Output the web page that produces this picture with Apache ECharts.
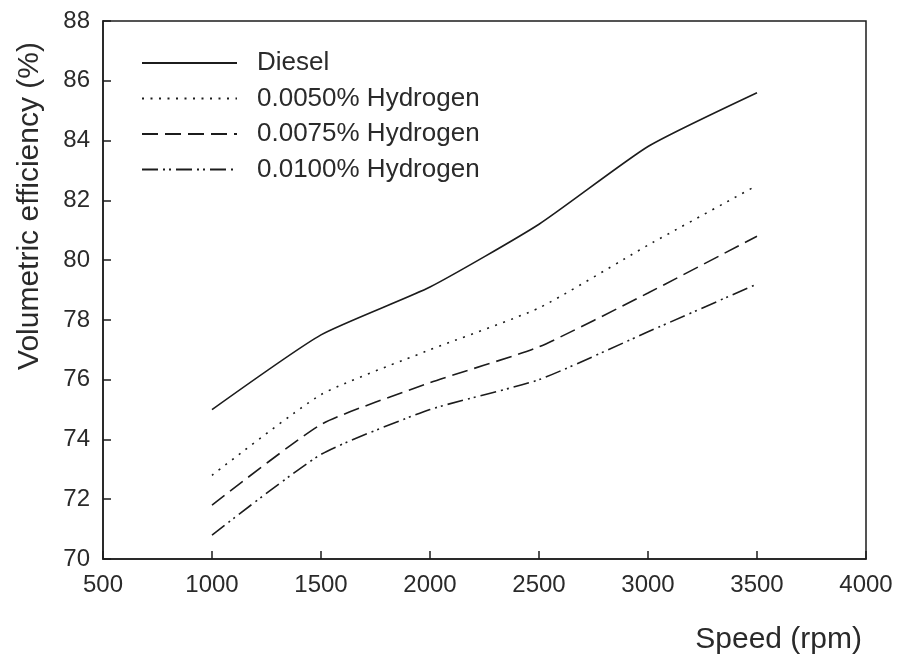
<!DOCTYPE html>
<html>
<head>
<meta charset="utf-8">
<title>Volumetric efficiency vs speed</title>
<script src="https://cdn.jsdelivr.net/npm/echarts@6/dist/echarts.min.js"></script>
<style>
  html, body { margin: 0; padding: 0; background: #fff; }
  #chart { width: 898px; height: 659px; }
</style>
</head>
<body>
<div id="chart"></div>
<script>
// Engine speed (rpm)
const speeds = [1000, 1500, 2000, 2500, 3000, 3500];

// Volumetric efficiency (%) per fuel blend
const diesel   = [75.0, 77.5, 79.1, 81.2, 83.8, 85.6];
const h2_0050  = [72.8, 75.5, 77.0, 78.4, 80.5, 82.5];
const h2_0075  = [71.8, 74.5, 75.9, 77.1, 78.9, 80.8];
const h2_0100  = [70.8, 73.5, 75.0, 76.0, 77.6, 79.2];

const seriesNames = ['Diesel', '0.0050% Hydrogen', '0.0075% Hydrogen', '0.0100% Hydrogen'];
const xTicks = { min: 500, max: 4000, step: 500 };
const yTicks = { min: 70, max: 88, step: 2 };

const FONT = '"Liberation Sans", Arial, sans-serif';
const INK = '#1c1c1c';
const TEXT = '#2a2a2a';

const dashPatterns = ['solid', [2, 6.5], [16, 7], [16, 5, 2, 4, 2, 5]];
const values = [diesel, h2_0050, h2_0075, h2_0100];

const chart = echarts.init(document.getElementById('chart'), null, { renderer: 'canvas' });

chart.setOption({
  backgroundColor: '#fff',
  animation: false,
  grid: {
    left: 103, right: 32, top: 21, bottom: 100,
    show: true, borderColor: INK, borderWidth: 1.5, backgroundColor: 'transparent'
  },
  legend: {
    orient: 'vertical',
    left: 141, top: 50, padding: 0,
    itemWidth: 95, itemHeight: 14, itemGap: 9.5,
    data: seriesNames,
    itemStyle: { opacity: 0 },
    textStyle: {
      fontFamily: FONT, fontSize: 26, color: TEXT,
      lineHeight: 25, padding: [0, 0, 0, 15]
    }
  },
  xAxis: {
    type: 'value',
    min: xTicks.min, max: xTicks.max, interval: xTicks.step,
    axisLine: { show: true, lineStyle: { color: INK, width: 1.5 } },
    axisTick: { show: true, inside: true, length: 8, lineStyle: { color: INK, width: 1.5 } },
    splitLine: { show: false },
    axisLabel: {
      fontFamily: FONT, fontSize: 24, color: TEXT, margin: 14,
      formatter: v => String(v)
    }
  },
  yAxis: {
    type: 'value',
    min: yTicks.min, max: yTicks.max, interval: yTicks.step,
    axisLine: { show: true, lineStyle: { color: INK, width: 1.5 } },
    axisTick: { show: true, inside: true, length: 8, lineStyle: { color: INK, width: 1.5 } },
    splitLine: { show: false },
    axisLabel: {
      fontFamily: FONT, fontSize: 24, color: TEXT, margin: 13,
      formatter: v => String(v)
    }
  },
  graphic: [
    {
      type: 'text',
      x: 30, y: 206,
      rotation: Math.PI / 2,
      style: {
        text: 'Volumetric efficiency (%)',
        font: '30px ' + FONT,
        fill: TEXT,
        textAlign: 'center',
        textVerticalAlign: 'middle'
      }
    },
    {
      type: 'text',
      x: 862, y: 640,
      style: {
        text: 'Speed (rpm)',
        font: '30px ' + FONT,
        fill: TEXT,
        textAlign: 'right',
        textVerticalAlign: 'middle'
      }
    }
  ],
  series: seriesNames.map((name, i) => ({
    name: name,
    type: 'line',
    data: speeds.map((s, j) => [s, values[i][j]]),
    symbol: 'none',
    smooth: 0.18,
    lineStyle: { color: INK, width: 1.6, type: dashPatterns[i] },
    itemStyle: { color: INK }
  }))
});
</script>
</body>
</html>
